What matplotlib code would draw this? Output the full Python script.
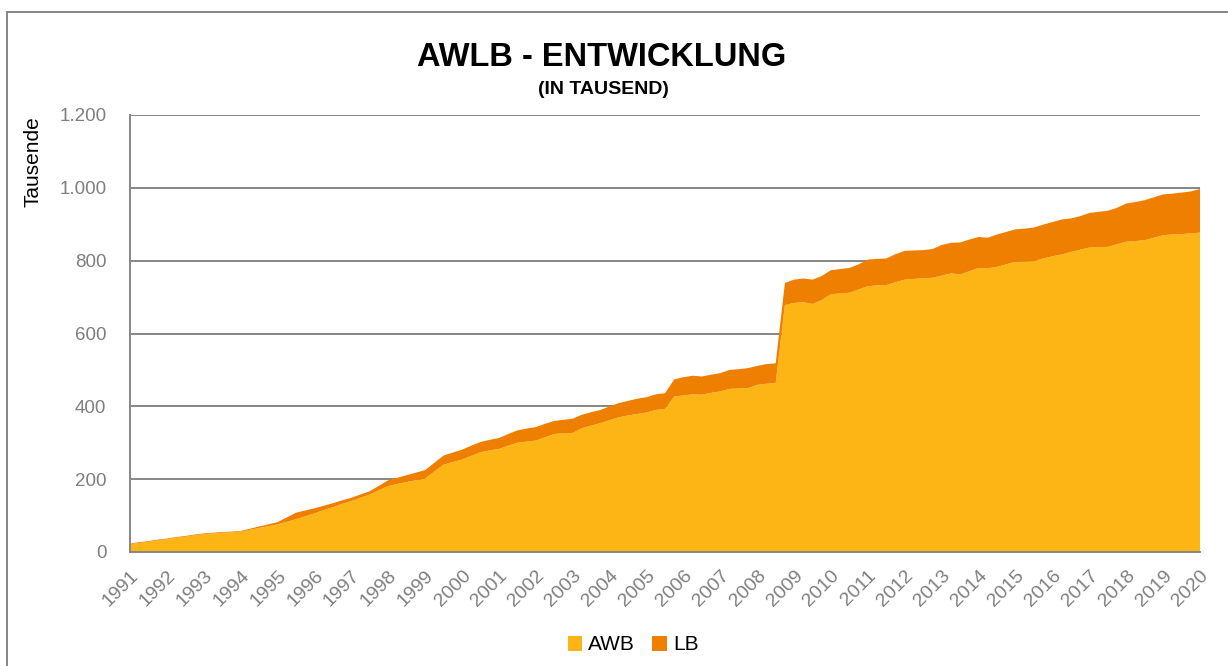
import numpy as np
import matplotlib
matplotlib.use('Agg')
import matplotlib.pyplot as plt
from matplotlib.patches import Rectangle
from matplotlib.ticker import FuncFormatter

plt.rcParams['font.family'] = ['Liberation Sans', 'DejaVu Sans']

# Quartalswerte 1991 bis 2020 (in Tausend)
awb = [21, 25, 28, 32, 35, 39, 42, 46, 49, 51, 53, 54, 56, 61, 66, 71, 76, 83, 90, 98,
       106, 115, 123, 132, 140, 149, 158, 170, 181, 187, 192, 197, 202, 221, 240, 247, 254, 264, 274, 279,
       283, 292, 300, 303, 306, 315, 324, 326, 327, 340, 347, 354, 362, 370, 375, 379, 383, 390, 393, 427,
       430, 433, 432, 437, 441, 448, 449, 450, 459, 462, 464, 678, 684, 686, 681, 692, 708, 710, 712, 721,
       730, 732, 733, 741, 748, 750, 752, 753, 759, 765, 762, 771, 780, 779, 783, 790, 797, 798, 799, 806,
       812, 817, 824, 830, 836, 837, 838, 845, 852, 854, 856, 863, 870, 872, 873, 875, 877]
lb = [2, 2, 2, 2, 2, 2, 2, 2, 2, 2, 2, 2, 2, 3, 4, 5, 6, 12, 18, 16,
      14, 12, 11, 10, 9, 9, 9, 12, 16, 17, 19, 21, 23, 24, 25, 26, 27, 28, 28, 29,
      30, 32, 34, 36, 37, 37, 36, 37, 39, 37, 37, 36, 38, 39, 40, 42, 42, 43, 43, 47,
      50, 51, 50, 50, 50, 52, 53, 55, 52, 54, 54, 61, 64, 65, 67, 66, 66, 67, 68, 69,
      73, 73, 73, 77, 79, 78, 77, 79, 84, 84, 88, 87, 85, 84, 89, 89, 89, 90, 92, 93,
      94, 96, 92, 92, 95, 97, 99, 100, 105, 107, 110, 111, 112, 112, 114, 115, 120]
quarters = 1991 + np.arange(len(awb)) / 4
years = list(range(1991, 2021))

awb_color = '#FDB515'
lb_color = '#EF7F01'
grey = '#868686'
label_grey = '#7F7F7F'

fig = plt.figure(figsize=(12.28, 6.66), dpi=100)
ax = fig.add_axes([130 / 1228, 1 - 552 / 666, 1070 / 1228, 437 / 666])

ax.stackplot(quarters, awb, lb, colors=[awb_color, lb_color], labels=['AWB', 'LB'], linewidth=0)

ax.set_xlim(1991, 2020)
ax.set_ylim(0, 1200)
ax.set_yticks(range(0, 1201, 200))
ax.yaxis.set_major_formatter(FuncFormatter(lambda v, p: f'{int(v):,}'.replace(',', '.')))
ax.set_xticks(years)
ax.set_xticklabels([str(y) for y in years], rotation=45, ha='right', rotation_mode='anchor')

ax.grid(axis='y', color=grey, linewidth=1.4)
ax.set_axisbelow(True)
for side in ['top', 'right']:
    ax.spines[side].set_visible(False)
for side in ['left', 'bottom']:
    ax.spines[side].set_color(grey)
    ax.spines[side].set_linewidth(1.4)
ax.tick_params(axis='both', length=0, colors=label_grey)
ax.tick_params(axis='x', pad=11, labelsize=14)
ax.tick_params(axis='y', pad=17, labelsize=13.5)

fig.text(602 / 1228, 1 - 58 / 666, 'AWLB - ENTWICKLUNG', ha='center', va='center',
         fontsize=23.5, fontweight='bold')
fig.text(603 / 1228, 1 - 89 / 666, '(IN TAUSEND)', ha='center', va='center',
         fontsize=14, fontweight='bold')
fig.text(33 / 1228, 1 - 162 / 666, 'Tausende', rotation=90, ha='center', va='center', fontsize=15)

fig.legend(loc='center', bbox_to_anchor=(633 / 1228, 1 - 645 / 666), ncol=2, frameon=False,
           fontsize=15, handlelength=0.7, handleheight=0.7, handletextpad=0.3, columnspacing=0.8)

# Rahmen um das Diagramm (rechts und unten abgeschnitten)
fig.patches.append(Rectangle((7 / 1228, -0.05), 1.1, 1.05 - 12 / 666, transform=fig.transFigure,
                             fill=False, edgecolor=grey, linewidth=1.4))

fig.savefig('out.png', dpi=100)
